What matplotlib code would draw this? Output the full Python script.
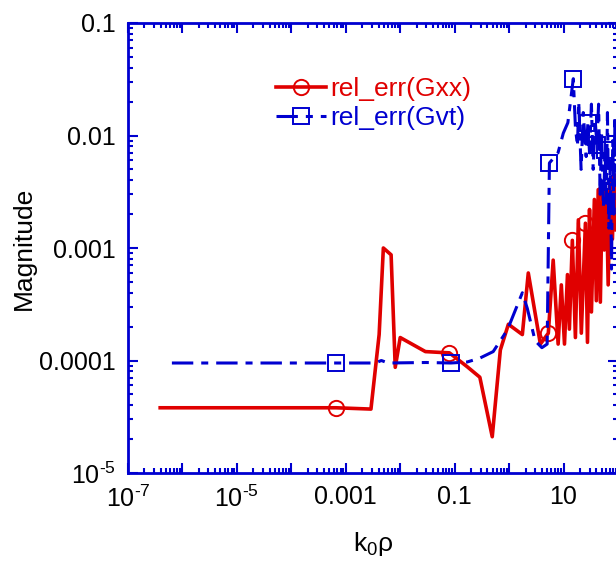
import matplotlib
matplotlib.use('Agg')
from matplotlib import pyplot as plt
from matplotlib.ticker import FixedLocator, FixedFormatter, LogLocator, NullFormatter

plt.rcParams['font.family'] = ['Liberation Sans', 'DejaVu Sans']
plt.rcParams['mathtext.fontset'] = 'custom'
plt.rcParams['mathtext.rm'] = 'Liberation Sans'
plt.rcParams['mathtext.it'] = 'Liberation Sans'

# rel_err(Gxx)
gxx_x = [3.9e-7, 6.6e-4, 2.9e-3, 4.1e-3, 4.9e-3, 6.8e-3, 8.1e-3, 1.0e-2, 0.029, 0.054,
         0.08, 0.17, 0.29, 0.49, 0.69, 0.97, 1.75, 2.25, 3.75, 5.25,
         6.45, 7.95, 9.1, 10.4, 11.8, 12.8, 14.5, 16.5, 18.7, 21.2,
         25.2, 27.5, 30, 32.5, 36.8, 40, 43.3, 47.4, 51.6, 56,
         61, 66, 72, 79, 85, 93]
gxx_y = [3.8e-5, 3.8e-5, 3.7e-5, 1.7e-4, 1.0e-3, 8.7e-4, 8.7e-5, 1.6e-4, 1.2e-4, 1.18e-4,
         1.17e-4, 8.8e-5, 7.1e-5, 2.1e-5, 1.24e-4, 2.1e-4, 1.7e-4, 6.0e-4, 1.4e-4, 1.75e-4,
         7.8e-4, 1.4e-4, 4.7e-4, 1.4e-4, 5.8e-4, 1.9e-4, 1.17e-3, 1.6e-4, 1.78e-3, 1.75e-4,
         1.66e-3, 1.45e-4, 2.2e-3, 2.7e-4, 2.7e-3, 3.4e-4, 3.3e-3, 3.3e-4, 3.6e-3, 9.6e-4,
         3.3e-3, 4.7e-4, 4.0e-3, 1.2e-3, 4.5e-3, 1.45e-3]
gxx_marks = [1, 10, 19, 26, 30, 40]

# rel_err(Gvt)
gvt_x = [6.4e-7, 6.6e-4, 3.5e-3, 4.5e-3, 6.0e-3, 0.03, 0.085, 0.17, 0.29, 0.51,
         0.93, 1.75, 2.16, 3.0, 4.0, 5.0, 5.5, 7.9, 9.9, 12,
         15.1, 16.5, 18, 19, 21, 23, 26, 28, 30, 32.5,
         35, 38, 41, 44, 47, 50, 54, 58, 61, 64,
         68, 72, 76, 80, 84, 88, 93]
gvt_y = [9.5e-5, 9.5e-5, 9.5e-5, 1.0e-4, 9.5e-5, 9.6e-5, 9.5e-5, 9.7e-5, 1.05e-4, 1.2e-4,
         1.87e-4, 4.0e-4, 2.9e-4, 1.5e-4, 1.3e-4, 1.4e-4, 5.7e-3, 7.0e-3, 1.05e-2, 1.3e-2,
         3.2e-2, 1.2e-2, 8e-3, 2e-2, 5e-3, 1.6e-2, 6.5e-3, 1.3e-2, 7e-3, 1.9e-2,
         5e-3, 1.4e-2, 8.2e-3, 1.9e-2, 3e-3, 1.1e-2, 2.3e-3, 7.5e-3, 2.5e-3, 1.6e-2,
         1.5e-3, 6e-3, 6.5e-4, 9e-3, 2e-3, 1.5e-2, 3.5e-3]
gvt_marks = [1, 6, 16, 20, 27, 32, 37]

x_ticks = [1e-7, 1e-6, 1e-5, 1e-4, 1e-3, 1e-2, 1e-1, 1, 10, 100]
x_labels = [r'$\mathregular{10^{‐7}}$', '', r'$\mathregular{10^{‐5}}$', '', '0.001', '', '0.1', '', '10', '']
y_ticks = [1e-5, 1e-4, 1e-3, 1e-2, 1e-1]
y_labels = [r'$\mathregular{10^{‐5}}$', '0.0001', '0.001', '0.01', '0.1']

red = '#e00000'
blue = '#0000d0'

fig = plt.figure(figsize=(6.16, 5.63), dpi=100)
ax = fig.add_axes([128/616, 1-473/563, 490/616, 450/563])

ax.plot(gxx_x, gxx_y, color=red, lw=2.6, marker='o', markevery=gxx_marks,
        ms=11, mfc='none', mec=red, mew=1.4, label='rel_err(Gxx)')
ax.plot(gvt_x, gvt_y, color=blue, lw=2.2, ls=(0, (7, 2.6, 2.3, 2.6)), marker='s',
        markevery=gvt_marks, ms=11, mfc='none', mec=blue, mew=1.4, label='rel_err(Gvt)')

ax.set_xscale('log')
ax.set_yscale('log')
ax.set_xlim(1e-7, 100)
ax.set_ylim(1e-5, 0.1)

ax.xaxis.set_major_locator(FixedLocator(x_ticks))
ax.xaxis.set_major_formatter(FixedFormatter(x_labels))
ax.yaxis.set_major_locator(FixedLocator(y_ticks))
ax.yaxis.set_major_formatter(FixedFormatter(y_labels))
ax.xaxis.set_minor_locator(LogLocator(base=10, subs=range(2, 10), numticks=20))
ax.yaxis.set_minor_locator(LogLocator(base=10, subs=range(2, 10), numticks=20))
ax.xaxis.set_minor_formatter(NullFormatter())
ax.yaxis.set_minor_formatter(NullFormatter())

ax.tick_params(which='both', direction='in', top=True, right=True, color=blue,
               labelsize=18, width=1.5)
ax.tick_params(which='major', length=7, pad=9)
ax.tick_params(which='minor', length=3.5)
for s in ax.spines.values():
    s.set_color(blue)
    s.set_linewidth(2)

ax.set_xlabel(r'k$_\mathregular{0}$ρ', fontsize=19, labelpad=13)
ax.set_ylabel('Magnitude', fontsize=19, labelpad=2)

leg = ax.legend(loc='upper left', bbox_to_anchor=(276/616, 1-77/563),
                bbox_transform=fig.transFigure, frameon=False, fontsize=19,
                handlelength=1.9, handletextpad=0.15, labelspacing=0.2,
                borderpad=0, borderaxespad=0)
for t, c in zip(leg.get_texts(), [red, blue]):
    t.set_color(c)

fig.savefig('out.png', dpi=100)
